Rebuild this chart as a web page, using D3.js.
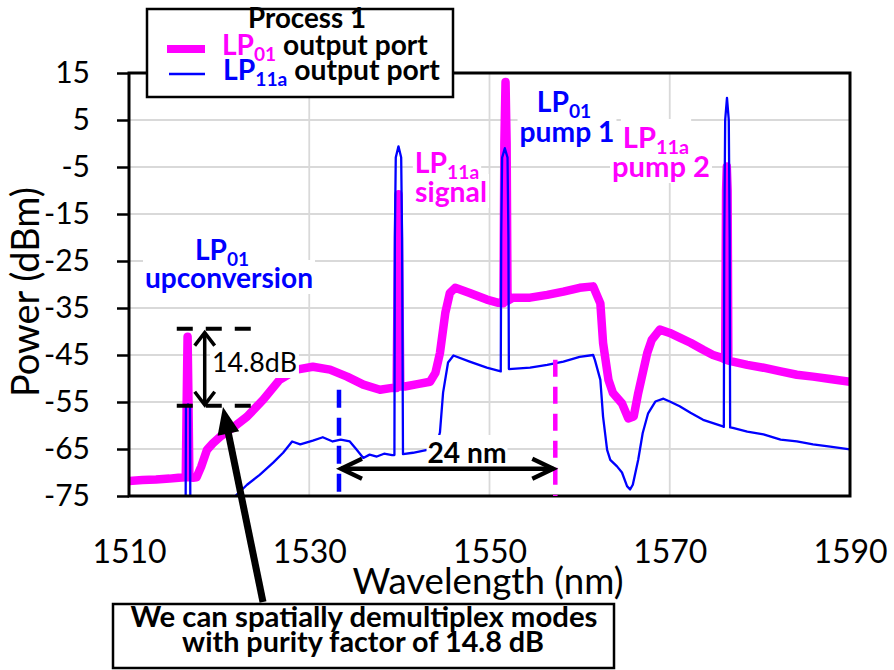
<!DOCTYPE html>
<html lang="en">
	<head>
		<meta charset="utf-8">
		<title>Process 1 - output port spectra</title>
		<script type="text/javascript" src="https://cdn.jsdelivr.net/npm/d3@7"></script>
		<style type="text/css">
			body { margin: 0; background: #fff; }
			svg { font-family: Lato, "Open Sans", sans-serif; }
		</style>
	</head>
	<body>
		<script type="text/javascript">

			/* spectra: [wavelength nm, power dBm] */
			var lp01Port = [
				[1510, -71.8], [1511.5, -71.6], [1513, -71.5], [1514.5, -71.3], [1515.5, -71.1], [1516.3, -71.0],
				[1516.4, -55], [1516.5, -41.1], [1516.6, -55], [1516.7, -71.0],
				[1517.1, -71.1], [1517.5, -71.0], [1518.0, -68.8], [1518.65, -65.2], [1519.3, -63.8], [1520.1, -62.4],
				[1521.5, -60.5], [1523.1, -58.1], [1524.9, -54.5], [1526.7, -50.3], [1528.6, -48.1], [1530.4, -47.5],
				[1532.3, -48.1], [1534.2, -49.6], [1536.0, -51.3], [1537.85, -52.4], [1539.2, -52.0], [1539.7, -52.0],
				[1539.8, -30], [1539.9, -10.8], [1540.0, -30], [1540.1, -51.7],
				[1540.6, -51.7], [1542.0, -51.2], [1543.4, -50.7], [1544.0, -48.8], [1544.5, -44.6], [1545.1, -36.0],
				[1545.6, -31.8], [1546.2, -30.7], [1547.8, -31.8], [1549.7, -33.2], [1551.0, -33.9], [1551.55, -34.0],
				[1551.65, 0], [1551.78, 13.1], [1551.9, 0], [1552.0, -33.5],
				[1552.6, -32.8], [1554.5, -32.8], [1556.4, -32.2], [1558.2, -31.5], [1560.0, -30.7], [1561.5, -30.4],
				[1562.3, -34.0], [1562.6, -42.4], [1563.2, -50.3], [1563.7, -53.1], [1564.7, -55.3], [1565.4, -58.5],
				[1566.0, -58.1], [1566.5, -53.1], [1567.5, -44.6], [1568.0, -41.8], [1568.9, -39.6], [1570.0, -40.3],
				[1571.1, -41.3], [1572.3, -42.4], [1573.7, -43.9], [1574.8, -45.0], [1575.8, -45.6], [1576.15, -46.0],
				[1576.25, -10], [1576.33, -4.9], [1576.42, -10], [1576.5, -46.2],
				[1577.0, -46.4], [1578.6, -47.1], [1580.4, -47.7], [1582.3, -48.5], [1584.1, -49.2], [1585.9, -49.6],
				[1587.8, -50.1], [1590, -50.7]
			];

			var lp11aPort = [
				[1515.9, -80], [1516.28, -80], [1516.32, -56], [1516.55, -55.5], [1516.77, -56], [1516.81, -80],
				[1521.5, -80], [1521.8, -75], [1523.1, -72.6], [1524.5, -70.5], [1526.0, -67.9], [1527.1, -65.8],
				[1528.1, -63.4], [1529.0, -64.0], [1530.4, -63.2], [1531.5, -62.5], [1532.6, -63.4], [1533.5, -63.0],
				[1534.5, -63.4], [1535.2, -65.0], [1536.0, -66.9], [1536.7, -66.2], [1537.5, -66.6], [1538.3, -66.0],
				[1539.2, -66.3], [1539.45, -66.3],
				[1539.5, -20], [1539.6, -3], [1539.9, -0.6], [1540.2, -3], [1540.3, -20], [1540.4, -66.1],
				[1541.5, -65.8], [1543.1, -65.2], [1543.8, -64.5], [1544.2, -63.5], [1544.5, -61.5], [1544.85, -53.0],
				[1545.4, -46.6], [1546.0, -45.1], [1547.8, -46.4], [1549.7, -47.7], [1551.25, -48.5],
				[1551.3, -20], [1551.4, -3], [1551.7, -1.0], [1552.0, -3], [1552.1, -20], [1552.15, -48.0],
				[1554.5, -47.7], [1556.4, -47.1], [1558.2, -46.4], [1560.0, -45.4], [1561.5, -45.0], [1561.7, -46.1],
				[1562.3, -50.3], [1562.6, -58.1], [1563.05, -65.2], [1563.4, -67.3], [1564.15, -68.7], [1564.7, -70.0],
				[1565.26, -72.9], [1565.6, -73.6], [1565.9, -72.6], [1566.5, -67.3], [1567.0, -61.6], [1567.6, -57.4],
				[1568.4, -54.9], [1569.3, -54.3], [1570.0, -54.9], [1571.1, -55.9], [1572.3, -57.3], [1573.7, -58.8],
				[1574.8, -59.5], [1575.9, -60.2], [1576.0, -60.3],
				[1576.05, -20], [1576.15, 5], [1576.35, 9.7], [1576.55, 5], [1576.65, -20], [1576.7, -60.4],
				[1577.0, -60.5], [1578.6, -61.3], [1580.4, -61.9], [1582.3, -63.0], [1584.1, -63.4], [1585.9, -64.0],
				[1587.8, -64.5], [1590, -65.1]
			];

			var xTicks = [1510, 1530, 1550, 1570, 1590];
			var yTicks = [-75, -65, -55, -45, -35, -25, -15, -5, 5, 15];

			/* annotation anchors in data units */
			var marker01 = 1533.3;     // blue dashed marker
			var marker11 = 1557.3;     // magenta dashed marker (24 nm away)
			var purityTop = -39.4;
			var purityBottom = -55.8;
			var purityRange = [1515.3, 1524.8];

			var magenta = "#ff00ff";
			var blue = "#0000ff";

			/* initial set up */
			var w = 894;
			var h = 670;
			var box = {left: 129, right: 850, top: 73, bottom: 496};

			var svg = d3.select("body")
						.append("svg")
						.attr("width", w)
						.attr("height", h);

			var xScale = d3.scaleLinear()
						.domain([1510, 1590])
						.range([box.left, box.right]);

			var yScale = d3.scaleLinear()
						.domain([-75, 15])
						.range([box.bottom, box.top]);

			/* helpers */
			var fit = function(t, width) {
				var bw = t.node().getBBox().width;
				var fs = parseFloat(t.attr("font-size"));
				t.attr("font-size", fs * width / bw);
				return t;
			};

			// runs: [{text, fill, sub}] ; subscripts are drawn at 0.68 of the size
			var label = function(g, x, y, anchor, size, weight, runs) {
				var t = g.append("text")
					.attr("x", x)
					.attr("y", y)
					.attr("text-anchor", anchor)
					.attr("font-size", size)
					.attr("font-weight", weight);
				var down = false;
				runs.forEach(function(r) {
					var s = t.append("tspan").text(r.text).attr("fill", r.fill || "#000");
					if (r.sub) {
						s.attr("font-size", "0.68em").attr("dy", "0.3em");
						down = true;
					} else if (down) {
						s.attr("dy", "-0.204em");
						down = false;
					}
				});
				return t;
			};

			var backdrop = function(g, t, pad) {
				var b = t.node().getBBox();
				g.append("rect")
					.attr("x", b.x - pad)
					.attr("y", b.y)
					.attr("width", b.width + 2 * pad)
					.attr("height", b.height)
					.attr("fill", "#fff");
			};

			var chevron = function(g, tip, dir, len, half, color, width) {
				var px = -dir[1], py = dir[0];
				var pts = [
					[tip[0] - dir[0] * len + px * half, tip[1] - dir[1] * len + py * half],
					tip,
					[tip[0] - dir[0] * len - px * half, tip[1] - dir[1] * len - py * half]
				];
				g.append("polyline")
					.attr("points", pts.map(function(p) { return p.join(","); }).join(" "))
					.attr("fill", "none")
					.attr("stroke", color)
					.attr("stroke-width", width)
					.attr("stroke-linejoin", "miter");
			};

			/* grid */
			var grid = svg.append("g");
			grid.selectAll(".hgrid")
				.data(yTicks.slice(1, -1))
				.enter()
				.append("line")
				.attr("x1", box.left).attr("x2", box.right)
				.attr("y1", function(d) { return yScale(d); })
				.attr("y2", function(d) { return yScale(d); })
				.attr("stroke", "#d9d9d9")
				.attr("stroke-width", 1.8);
			grid.selectAll(".vgrid")
				.data(xTicks.slice(1, -1))
				.enter()
				.append("line")
				.attr("y1", box.top).attr("y2", box.bottom)
				.attr("x1", function(d) { return xScale(d); })
				.attr("x2", function(d) { return xScale(d); })
				.attr("stroke", "#d9d9d9")
				.attr("stroke-width", 1.8);

			/* traces */
			svg.append("clipPath").attr("id", "plotClip")
				.append("rect")
				.attr("x", box.left).attr("y", box.top)
				.attr("width", box.right - box.left).attr("height", box.bottom - box.top);

			var line = d3.line()
				.x(function(d) { return xScale(d[0]); })
				.y(function(d) { return yScale(d[1]); });

			var traces = svg.append("g").attr("clip-path", "url(#plotClip)");
			traces.append("path")
				.attr("d", line(lp01Port))
				.attr("fill", "none")
				.attr("stroke", magenta)
				.attr("stroke-width", 8.5)
				.attr("stroke-linejoin", "round")
				.attr("stroke-linecap", "round");
			traces.append("path")
				.attr("d", line(lp11aPort))
				.attr("fill", "none")
				.attr("stroke", blue)
				.attr("stroke-width", 2.3)
				.attr("stroke-linejoin", "round");

			/* frame and axes */
			svg.append("rect")
				.attr("x", box.left).attr("y", box.top)
				.attr("width", box.right - box.left).attr("height", box.bottom - box.top)
				.attr("fill", "none")
				.attr("stroke", "#000")
				.attr("stroke-width", 3);

			var plain = function(d) { return String(d); };

			var yAxis = svg.append("g")
				.attr("transform", "translate(" + box.left + ",0)")
				.call(d3.axisLeft(yScale).tickValues(yTicks).tickFormat(plain).tickSize(12).tickPadding(27));
			yAxis.select(".domain").remove();
			yAxis.selectAll("line").attr("stroke", "#000").attr("stroke-width", 2.5);
			yAxis.selectAll("text")
				.attr("font-size", 30)
				.attr("font-family", "Lato")
				.attr("fill", "#000");

			var xAxis = svg.append("g")
				.attr("transform", "translate(0," + box.bottom + ")")
				.call(d3.axisBottom(xScale).tickValues(xTicks).tickFormat(plain).tickSize(0).tickPadding(44));
			xAxis.select(".domain").remove();
			xAxis.selectAll("text")
				.attr("font-size", 32)
				.attr("font-family", "Lato")
				.attr("fill", "#000");

			var xTitle = svg.append("text")
				.attr("x", 488).attr("y", 594)
				.attr("text-anchor", "middle")
				.attr("font-size", 34)
				.text("Wavelength (nm)");
			fit(xTitle, 271);

			var yTitle = svg.append("text")
				.attr("transform", "translate(39,292) rotate(-90)")
				.attr("text-anchor", "middle")
				.attr("font-size", 34)
				.text("Power (dBm)");
			fit(yTitle, 210);

			/* dashed markers and the 24 nm span */
			var notes = svg.append("g");
			notes.append("line")
				.attr("x1", xScale(marker01)).attr("x2", xScale(marker01))
				.attr("y1", yScale(-52.4)).attr("y2", yScale(-75))
				.attr("stroke", blue).attr("stroke-width", 4.5)
				.attr("stroke-dasharray", "18,10");
			notes.append("line")
				.attr("x1", xScale(marker11)).attr("x2", xScale(marker11))
				.attr("y1", yScale(-46)).attr("y2", yScale(-75))
				.attr("stroke", magenta).attr("stroke-width", 4.5)
				.attr("stroke-dasharray", "17,10");

			var spanBg = notes.append("g");
			var spanLabel = label(notes, 467, 463, "middle", 28, 700, [{text: "24 nm"}]);
			fit(spanLabel, 79);
			backdrop(spanBg, spanLabel, 1);

			var spanY = yScale(-69.2);
			notes.append("line")
				.attr("x1", xScale(marker01) + 2).attr("x2", xScale(marker11) - 2)
				.attr("y1", spanY).attr("y2", spanY)
				.attr("stroke", "#000").attr("stroke-width", 4.3);
			chevron(notes, [xScale(marker01) + 2, spanY], [-1, 0], 21, 10, "#000", 4.3);
			chevron(notes, [xScale(marker11) - 2, spanY], [1, 0], 21, 10, "#000", 4.3);

			/* 14.8 dB purity marker */
			var purity = svg.append("g");
			var purityBg = purity.append("g");
			var pText = label(purity, 212, 372, "start", 28, 400, [{text: "14.8dB"}]);
			fit(pText, 85);
			backdrop(purityBg, pText, 2);
			[purityTop, purityBottom].forEach(function(p) {
				purity.append("line")
					.attr("x1", xScale(purityRange[0])).attr("x2", xScale(purityRange[1]))
					.attr("y1", yScale(p)).attr("y2", yScale(p))
					.attr("stroke", "#000").attr("stroke-width", 4)
					.attr("stroke-dasharray", "16,13");
			});
			var ax = xScale(1518.4);
			var aTop = yScale(purityTop) + 4, aBot = yScale(purityBottom) - 1;
			purity.append("line")
				.attr("x1", ax).attr("x2", ax)
				.attr("y1", aTop).attr("y2", aBot)
				.attr("stroke", "#000").attr("stroke-width", 3.5);
			chevron(purity, [ax, aTop], [0, -1], 13, 10, "#000", 3.5);
			chevron(purity, [ax, aBot], [0, 1], 13, 10, "#000", 3.5);

			/* mode labels: the word line sets the size, the LP line uses the same size */
			var tagBg = svg.append("g");
			var tags = svg.append("g");
			var addTag = function(x1, y1, x2, y2, w2, sub, word, color) {
				var b = label(tags, x2, y2, "middle", 28, 700, [{text: word, fill: color}]);
				fit(b, w2);
				var a = label(tags, x1, y1, "middle", b.attr("font-size"), 700,
					[{text: "LP", fill: color}, {text: sub, fill: color, sub: true}]);
				backdrop(tagBg, b, 2);
				backdrop(tagBg, a, 2);
			};
			addTag(222, 260, 229, 288, 168, "01", "upconversion", blue);
			addTag(447, 173, 451, 202, 72, "11a", "signal", magenta);
			addTag(564, 112, 567, 142, 95, "01", "pump 1", blue);
			addTag(656, 148, 661, 177, 98, "11a", "pump 2", magenta);

			/* legend */
			var legend = svg.append("g");
			legend.append("rect")
				.attr("x", 147).attr("y", 9)
				.attr("width", 306).attr("height", 88)
				.attr("fill", "#fff")
				.attr("stroke", "#000")
				.attr("stroke-width", 2.5);
			fit(label(legend, 307, 28, "middle", 24, 700, [{text: "Process 1"}]), 118);
			legend.append("line")
				.attr("x1", 167).attr("x2", 205).attr("y1", 49).attr("y2", 49)
				.attr("stroke", magenta).attr("stroke-width", 8);
			legend.append("line")
				.attr("x1", 169).attr("x2", 205).attr("y1", 74).attr("y2", 74)
				.attr("stroke", blue).attr("stroke-width", 2.5);
			fit(label(legend, 222, 55, "start", 24, 700,
				[{text: "LP", fill: magenta}, {text: "01", fill: magenta, sub: true}, {text: " output port"}]), 206);
			fit(label(legend, 223, 80, "start", 24, 700,
				[{text: "LP", fill: blue}, {text: "11a", fill: blue, sub: true}, {text: " output port"}]), 217);

			/* callout box with arrow */
			var callout = svg.append("g");
			var tail = [263, 602], tip = [223, 407];
			var len = Math.hypot(tip[0] - tail[0], tip[1] - tail[1]);
			var dir = [(tip[0] - tail[0]) / len, (tip[1] - tail[1]) / len];
			callout.append("line")
				.attr("x1", tail[0]).attr("y1", tail[1])
				.attr("x2", tip[0] - dir[0] * 20).attr("y2", tip[1] - dir[1] * 20)
				.attr("stroke", "#000").attr("stroke-width", 7);
			var perp = [-dir[1], dir[0]];
			callout.append("polygon")
				.attr("points", [
					tip,
					[tip[0] - dir[0] * 27 + perp[0] * 11, tip[1] - dir[1] * 27 + perp[1] * 11],
					[tip[0] - dir[0] * 27 - perp[0] * 11, tip[1] - dir[1] * 27 - perp[1] * 11]
				].map(function(p) { return p.join(","); }).join(" "))
				.attr("fill", "#000");
			callout.append("rect")
				.attr("x", 113).attr("y", 604)
				.attr("width", 501).attr("height", 64)
				.attr("fill", "#fff")
				.attr("stroke", "#000")
				.attr("stroke-width", 2.5);
			fit(label(callout, 364, 627, "middle", 24, 700, [{text: "We can spatially demultiplex modes"}]), 467);
			fit(label(callout, 363, 652, "middle", 24, 700, [{text: "with purity factor of 14.8 dB"}]), 362);

		</script>
	</body>
</html>
